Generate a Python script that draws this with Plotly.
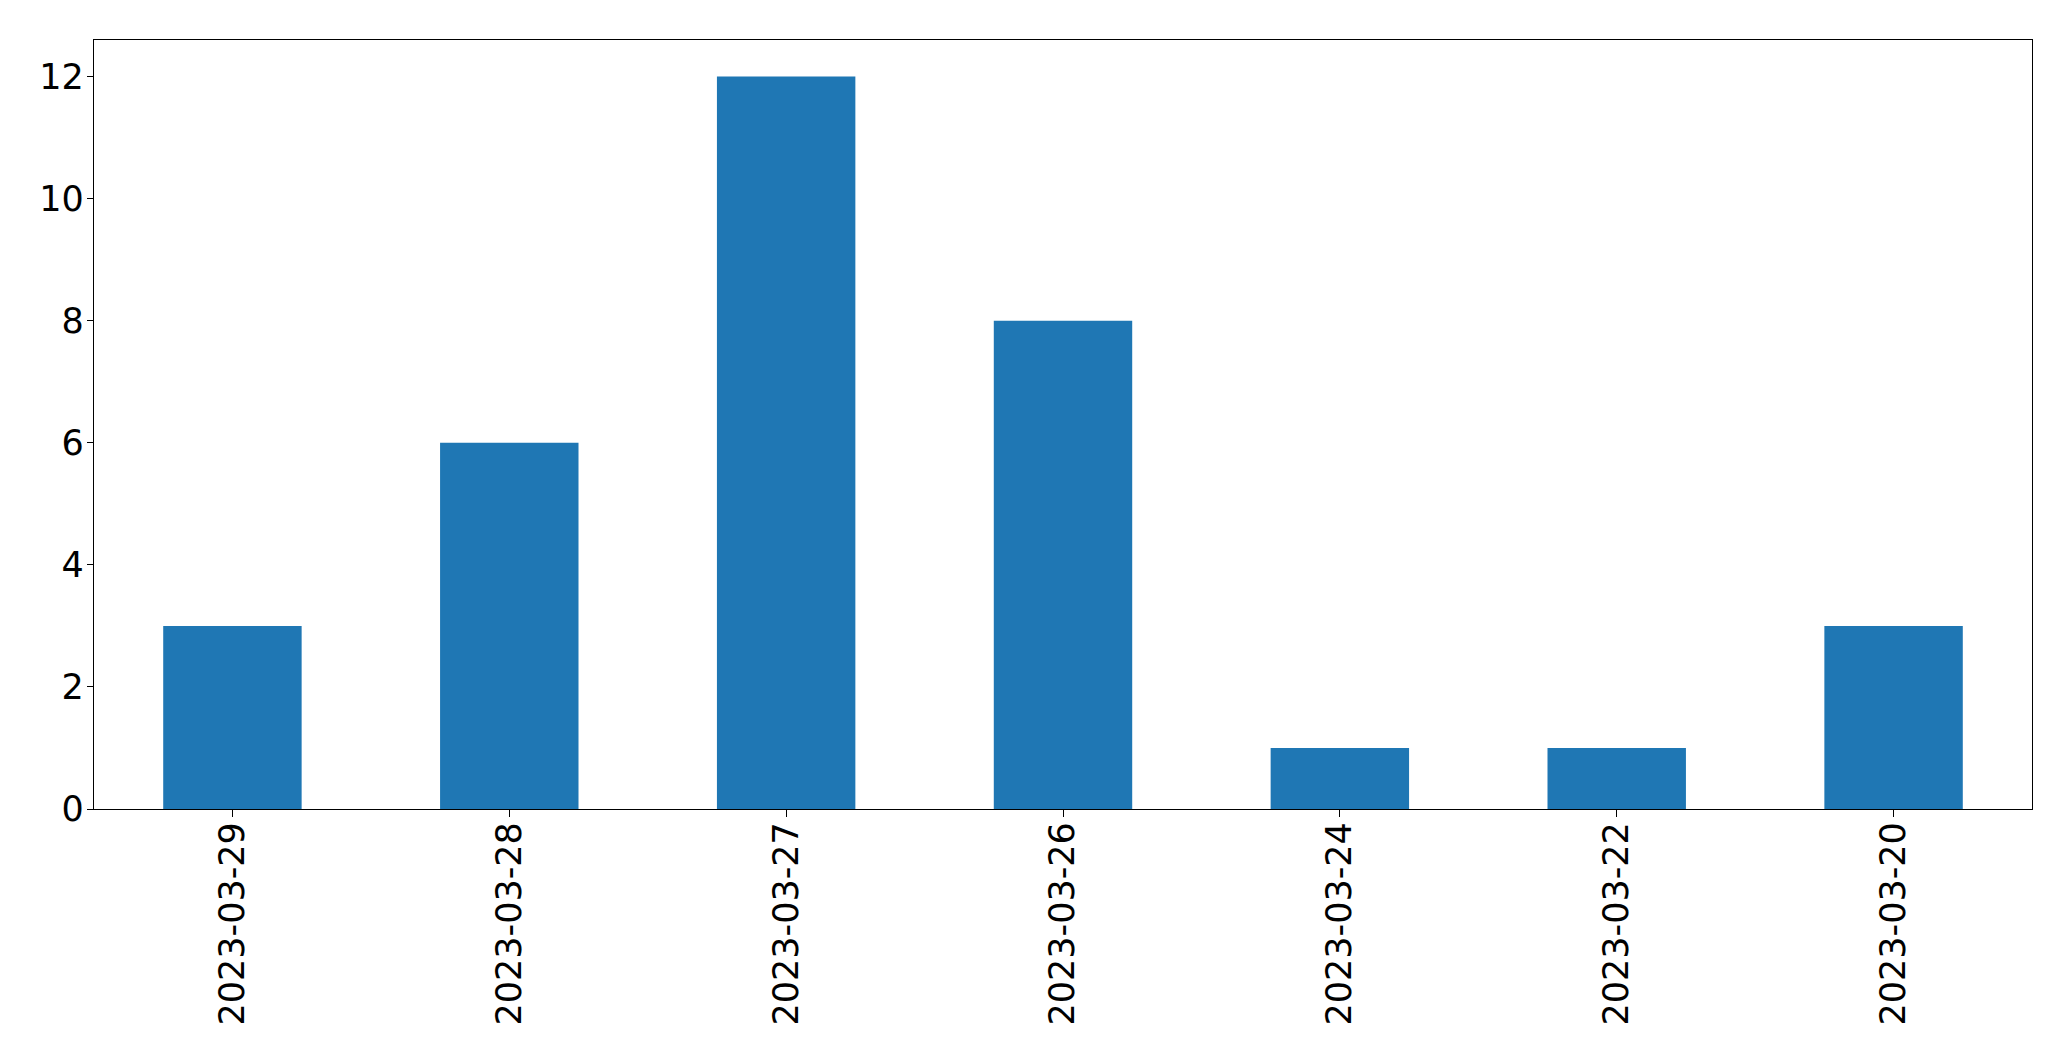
import plotly.graph_objects as go

dates = ["2023-03-29", "2023-03-28", "2023-03-27", "2023-03-26", "2023-03-24", "2023-03-22", "2023-03-20"]
counts = [3, 6, 12, 8, 1, 1, 3]
y_ticks = [0, 2, 4, 6, 8, 10, 12]

fig = go.Figure(go.Bar(x=dates, y=counts, marker=dict(color="#1f77b4", line=dict(width=0)), width=0.5))

font = dict(family="DejaVu Sans", size=35, color="black")
fig.update_layout(
    width=2071, height=1061,
    margin=dict(l=86, r=47, t=32, b=260, autoexpand=False),
    paper_bgcolor="white", plot_bgcolor="white",
    showlegend=False,
    font=font,
)
fig.update_xaxes(
    type="category", range=[-0.5, 6.5], tickangle=-90,
    showline=True, linecolor="black", linewidth=1.3, mirror=True,
    ticks="outside", ticklen=7, tickwidth=1.3, tickcolor="black",
    showgrid=False, zeroline=False, tickfont=font, ticklabelstandoff=-9,
)
fig.update_yaxes(
    range=[0, 12.6], tickvals=y_ticks, ticktext=[str(v) for v in y_ticks],
    showline=True, linecolor="black", linewidth=1.3, mirror=True,
    ticks="outside", ticklen=6, tickwidth=1.3, tickcolor="black",
    showgrid=False, zeroline=False, tickfont=font, ticklabelstandoff=-4,
)
fig.write_html("out.html")
